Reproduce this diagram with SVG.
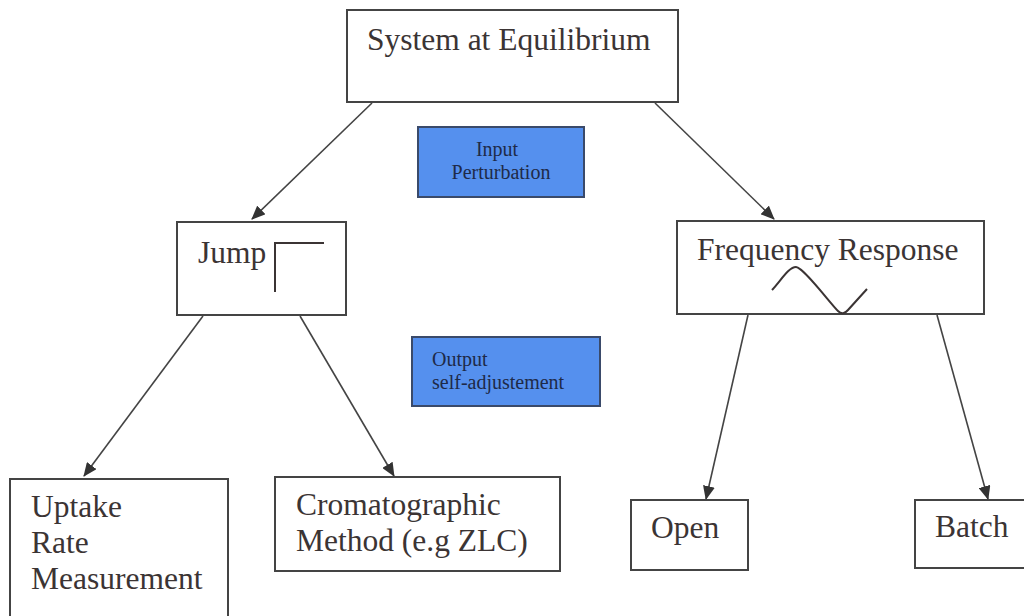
<svg xmlns="http://www.w3.org/2000/svg" width="1024" height="616" viewBox="0 0 1024 616">
<defs>
<marker id="ah" markerWidth="14" markerHeight="12" refX="13" refY="6" orient="auto" markerUnits="userSpaceOnUse" viewBox="0 0 14 12">
<path d="M0,0 L14,6 L0,12 z" fill="#333"/>
</marker>
<style>
.box{fill:#fff;stroke:#444;stroke-width:2}
.blue{fill:#5590ee;stroke:#3a4a6a;stroke-width:2}
.t{font-family:"Liberation Serif","Times New Roman",serif;font-size:31.5px;fill:#3b3434}
.s{font-family:"Liberation Serif","Times New Roman",serif;font-size:20px;fill:#1e2a48}
.c{fill:none;stroke:#444;stroke-width:1.6}
.sym{fill:none;stroke:#3b3434;stroke-width:2}
</style>
</defs>
<rect width="1024" height="616" fill="#fff"/>
<g id="connectors">
<line class="c" x1="372" y1="103" x2="252" y2="219" marker-end="url(#ah)"/>
<line class="c" x1="655" y1="103" x2="774" y2="219" marker-end="url(#ah)"/>
<line class="c" x1="203" y1="316" x2="84" y2="476" marker-end="url(#ah)"/>
<line class="c" x1="300" y1="316" x2="394" y2="476" marker-end="url(#ah)"/>
<line class="c" x1="748" y1="315" x2="706" y2="499" marker-end="url(#ah)"/>
<line class="c" x1="937" y1="315" x2="988" y2="499" marker-end="url(#ah)"/>
</g>
<g id="system">
<rect class="box" x="347" y="10" width="331" height="92"/>
<text class="t" x="367" y="50">System at Equilibrium</text>
</g>
<g id="input">
<rect class="blue" x="418" y="127" width="166" height="70"/>
<text class="s" x="497" y="156" text-anchor="middle">Input</text>
<text class="s" x="501" y="179" text-anchor="middle">Perturbation</text>
</g>
<g id="jump">
<rect class="box" x="177" y="222" width="169" height="93"/>
<text class="t" x="198" y="263">Jump</text>
<path class="sym" d="M275,292 V243 H324"/>
</g>
<g id="frequency">
<rect class="box" x="677" y="221" width="307" height="93"/>
<text class="t" x="697" y="260">Frequency Response</text>
<path class="sym" d="M772,290 C782,279 789,267 796,267 C803,267 830,303 838,311 Q843,316 848,310 L867,289"/>
</g>
<g id="output">
<rect class="blue" x="412" y="337" width="188" height="69"/>
<text class="s" x="432" y="366">Output</text>
<text class="s" x="432" y="389">self-adjustement</text>
</g>
<g id="uptake">
<rect class="box" x="10" y="479" width="218" height="150"/>
<text class="t" x="31" y="517">Uptake</text>
<text class="t" x="31" y="553">Rate</text>
<text class="t" x="31" y="589">Measurement</text>
</g>
<g id="cromatographic">
<rect class="box" x="275" y="477" width="285" height="94"/>
<text class="t" x="296" y="515">Cromatographic</text>
<text class="t" x="296" y="551">Method (e.g ZLC)</text>
</g>
<g id="open">
<rect class="box" x="631" y="500" width="117" height="70"/>
<text class="t" x="651" y="538">Open</text>
</g>
<g id="batch">
<rect class="box" x="915" y="500" width="120" height="68"/>
<text class="t" x="935" y="537">Batch</text>
</g>
</svg>
